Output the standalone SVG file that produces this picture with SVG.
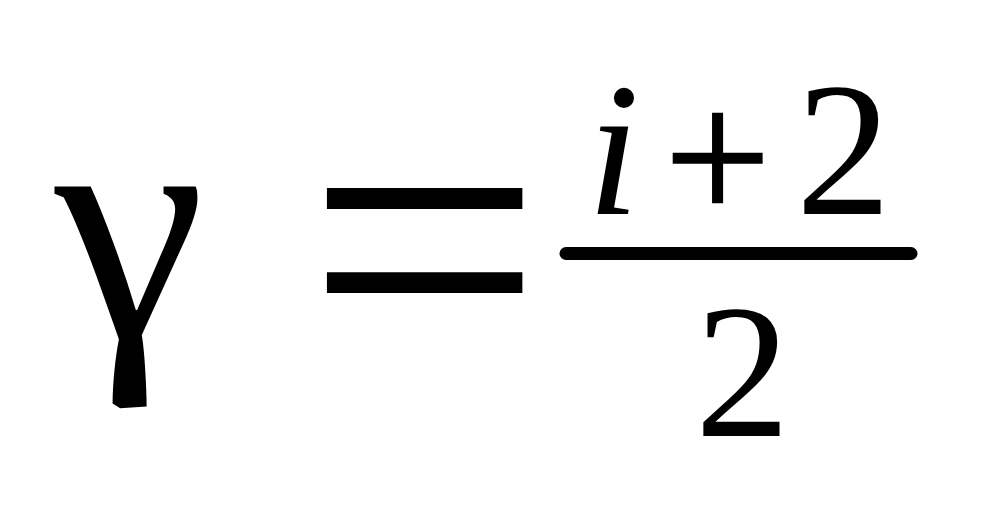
<svg xmlns="http://www.w3.org/2000/svg" width="987" height="507" viewBox="0 0 987 507">
<style>
text{font-family:"Liberation Serif","Times New Roman",serif;fill:#000}
.it{font-style:italic}
</style>
<rect width="987" height="507" fill="#fff"/>
<g id="gamma"><text x="0" y="0" font-size="330" transform="translate(55,338) scale(1.03,1)">γ</text></g>
<g id="equals"><text x="306" y="380" font-size="420">=</text></g>
<g id="numerator">
<text class="it" x="587" y="214" font-size="190">i</text>
<text x="664" y="222" font-size="190" stroke="#000" stroke-width="1.5">+</text>
<text x="796" y="214" font-size="190">2</text>
</g>
<line id="fraction-bar" x1="566" y1="253.5" x2="911" y2="253.5" stroke="#000" stroke-width="13" stroke-linecap="round"/>
<g id="denominator"><text x="695" y="436" font-size="190">2</text></g>
</svg>
